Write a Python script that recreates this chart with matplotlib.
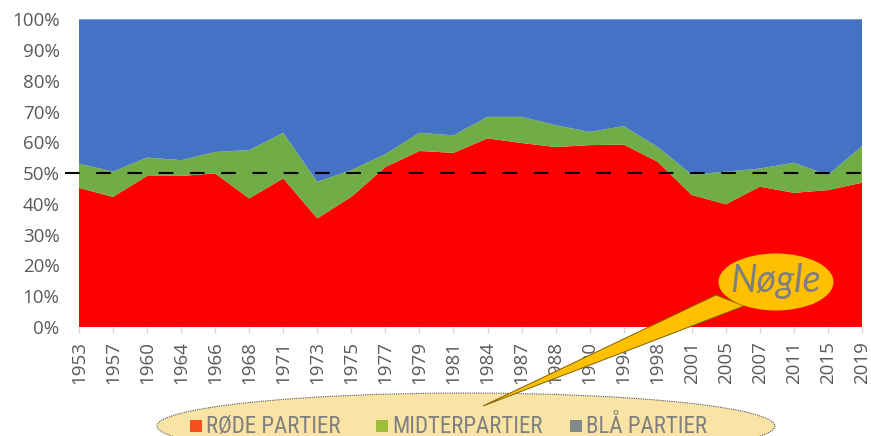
import numpy as np
import matplotlib
matplotlib.use("Agg")
import matplotlib.pyplot as plt
from matplotlib.patches import Ellipse, Polygon, Rectangle
from matplotlib import font_manager

plt.rcParams['font.family'] = ['Open Sans', 'DejaVu Sans']
plt.rcParams['lines.scale_dashes'] = True

# election years (Danish Folketing)
years = ['1953', '1957', '1960', '1964', '1966', '1968', '1971', '1973',
         '1975', '1977', '1979', '1981', '1984', '1987', '1988', '1990',
         '1994', '1998', '2001', '2005', '2007', '2011', '2015', '2019']

# shares in percent
red_share = [45.2, 42.3, 49.1, 49.1, 49.9, 41.8, 48.3, 35.3, 42.3, 52.0, 57.2, 56.6,
             61.3, 59.8, 58.5, 59.1, 59.3, 53.7, 42.9, 39.9, 45.6, 43.6, 44.5, 46.9]
mid_share = [7.9, 8.2, 6.0, 5.1, 7.0, 15.7, 14.8, 11.9, 8.7, 4.2, 5.9, 5.7,
             7.0, 8.5, 7.1, 4.3, 6.0, 4.8, 6.6, 10.6, 5.9, 9.8, 4.9, 11.9]
blue_share = [100 - r - m for r, m in zip(red_share, mid_share)]

series_colors = ['#FF0000', '#70AD47', '#4472C4']

legend_labels = ['RØDE PARTIER', 'MIDTERPARTIER', 'BLÅ PARTIER']
legend_colors = ['#F4511E', '#9DBE3A', '#7F8A87']
legend_x = [190, 376, 570]   # marker left edge, px

# narrow font for the legend if there is one
names = {f.name for f in font_manager.fontManager.ttflist}
narrow = [n for n in ['Liberation Sans Narrow', 'DejaVu Sans Condensed',
                      'Roboto Condensed', 'Open Sans Condensed'] if n in names]
legend_family = narrow[:1] + ['Open Sans', 'DejaVu Sans']

W, H = 871, 436
fig = plt.figure(figsize=(W / 100, H / 100), dpi=100)
ax = fig.add_axes([79 / W, 1 - 327 / H, (862 - 79) / W, (327 - 19.3) / H])

x = np.arange(len(years))
ax.stackplot(x, red_share, mid_share, blue_share, colors=series_colors, lw=0)

# 50% line, running past the plot area on both sides
ax.plot([-0.42, 23.3], [50, 50], color='black', lw=1.5, dashes=(7, 8),
        clip_on=False, zorder=5)

ax.set_xlim(0, len(years) - 1)
ax.set_ylim(0, 100)
ax.set_yticks(range(0, 101, 10))
ax.set_yticklabels([f'{v}%' for v in range(0, 101, 10)])
ax.set_xticks(x)
ax.set_xticklabels(years, rotation=90)
for s in ax.spines.values():
    s.set_visible(False)
ax.tick_params(axis='y', length=0, pad=14, labelsize=13.5, labelcolor='#595959')
ax.tick_params(axis='x', length=4, width=1, color='#D9D9D9', pad=6,
               labelsize=13.5, labelcolor='#595959')


def fx(px):
    return px / W


def fy(py):
    return 1 - py / H


# legend ellipse at the bottom
fig.add_artist(Ellipse((fx(466), fy(426)), 618 / W, 66 / H, transform=fig.transFigure,
                       facecolor='#F9E4A6', edgecolor='#555555', lw=0.8,
                       linestyle=(0, (1, 1)), zorder=2))
lsize = 16.5 if narrow else 13.5
for lab, col, lx in zip(legend_labels, legend_colors, legend_x):
    fig.add_artist(Rectangle((fx(lx), fy(432)), 12 / W, 12 / H,
                             transform=fig.transFigure, facecolor=col,
                             edgecolor='none', zorder=3))
    fig.text(fx(lx + 16), fy(426), lab, color='#7F7F7F', fontsize=lsize,
             family=legend_family, va='center', ha='left', zorder=3)

# "Nøgle" callout
fig.add_artist(Polygon([(fx(716), fy(295)), (fx(744), fy(306)), (fx(483), fy(406))],
                       closed=True, transform=fig.transFigure, facecolor='#FFC000',
                       edgecolor='#7F6000', lw=0.7, zorder=4))
fig.add_artist(Ellipse((fx(776), fy(282)), 115 / W, 57 / H, transform=fig.transFigure,
                       facecolor='#FFC000', edgecolor='none', zorder=5))
fig.text(fx(775), fy(281), 'Nøgle', color='#7F7F7F', fontsize=27, style='italic',
         family=['Lato', 'DejaVu Sans'], ha='center', va='center', zorder=6)

fig.savefig('out.png', dpi=100)
